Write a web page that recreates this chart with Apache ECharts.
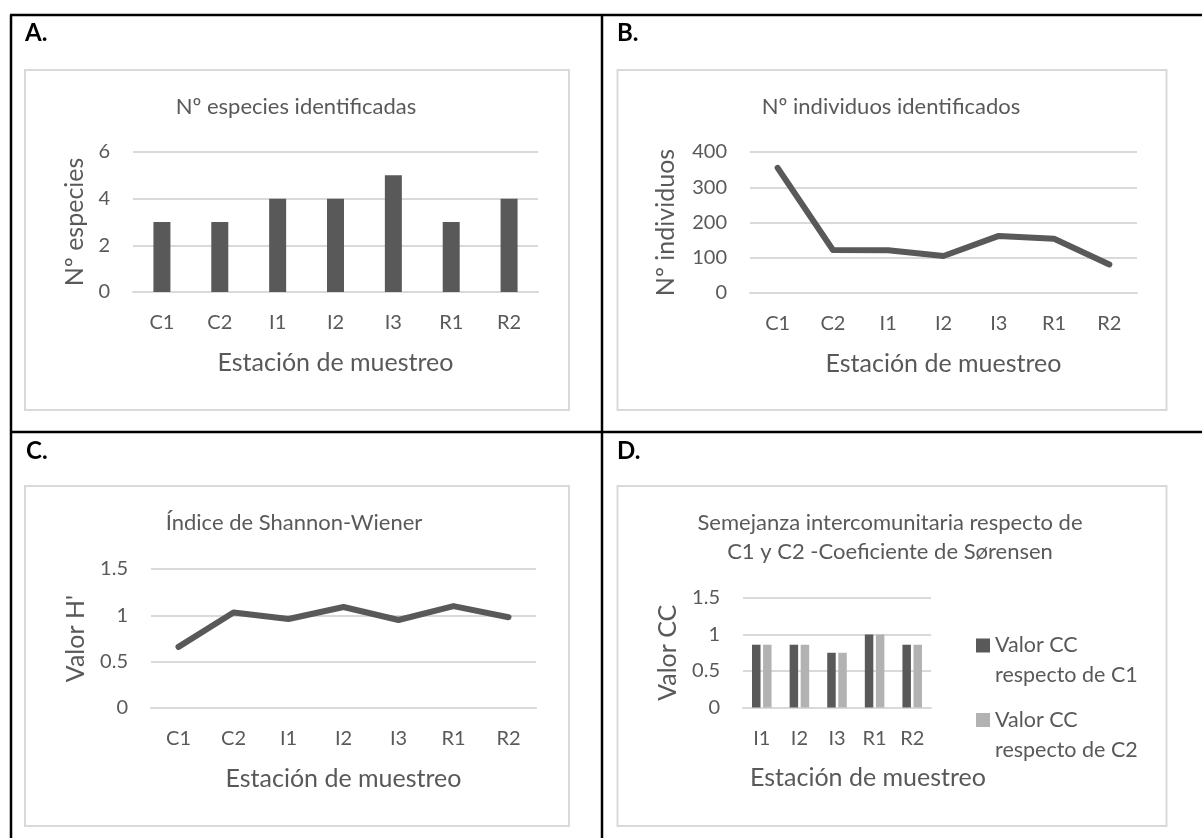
<!DOCTYPE html>
<html>
<head>
<meta charset="utf-8">
<script src="https://cdn.jsdelivr.net/npm/echarts@6/dist/echarts.min.js"></script>
<style>
html,body{margin:0;padding:0;background:#fff;}
#chart{width:1202px;height:838px;}
</style>
</head>
<body>
<div id="chart"></div>
<script>
// ---- data ----
const estaciones = ['C1', 'C2', 'I1', 'I2', 'I3', 'R1', 'R2'];
const especies = [3, 3, 4, 4, 5, 3, 4];
const individuos = [355, 122, 121, 105, 162, 154, 81];
const shannon = [0.66, 1.03, 0.96, 1.09, 0.95, 1.10, 0.98];
const estacionesD = ['I1', 'I2', 'I3', 'R1', 'R2'];
const ccC1 = [0.86, 0.86, 0.75, 1, 0.86];
const ccC2 = [0.86, 0.86, 0.75, 1, 0.86];
const serieC1 = 'Valor CC respecto de C1';
const serieC2 = 'Valor CC respecto de C2';

const FONT = 'Lato';
const TXT = '#595959';
const GRID = '#d9d9d9';
const DARK = '#595959';
const LIGHT = '#b2b2b2';
const NAME_FS = 25;
const TICK_FS = 20;

function xAx(gi, cats, extra) {
  return Object.assign({
    type: 'category', gridIndex: gi, data: cats,
    axisLine: {lineStyle: {color: GRID, width: 2}},
    axisTick: {show: false},
    axisLabel: {color: TXT, fontFamily: FONT, fontSize: TICK_FS, margin: 21},
    name: 'Estación de muestreo', nameLocation: 'middle', nameGap: 58,
    nameTextStyle: {color: TXT, fontFamily: FONT, fontSize: NAME_FS}
  }, extra || {});
}
function yAx(gi, max, interval, name, gap) {
  return {
    type: 'value', gridIndex: gi, min: 0, max: max, interval: interval,
    axisLine: {show: false}, axisTick: {show: false},
    splitLine: {lineStyle: {color: GRID, width: 2}},
    axisLabel: {color: TXT, fontFamily: FONT, fontSize: TICK_FS, margin: 23},
    name: name, nameLocation: 'middle', nameGap: gap,
    nameTextStyle: {color: TXT, fontFamily: FONT, fontSize: NAME_FS}
  };
}
function ttl(text, x, y) {
  return {text: text, left: x, top: y, textAlign: 'center', padding: 0,
    textStyle: {color: TXT, fontFamily: FONT, fontSize: 22, fontWeight: 'normal', lineHeight: 29}};
}
function panelLabel(t, x, y) {
  return {type: 'text', left: x, top: y,
    style: {text: t, fill: '#000', font: 'bold 24px Lato'}};
}
function box(x, y, w, h) {
  return {type: 'rect', shape: {x: x, y: y, width: w, height: h}, z: -10,
    style: {fill: null, stroke: GRID, lineWidth: 2}};
}
function blk(x1, y1, x2, y2) {
  return {type: 'line', shape: {x1: x1, y1: y1, x2: x2, y2: y2}, z: -5,
    style: {stroke: '#000', lineWidth: 2.5}};
}
const legendText = n => '\n' + n.replace(' respecto', '\nrespecto');
const legendStyle = {color: TXT, fontFamily: FONT, fontSize: 21.5, lineHeight: 30};

const chart = echarts.init(document.getElementById('chart'), null, {renderer: 'canvas'});
chart.setOption({
  backgroundColor: '#fff',
  animation: false,
  graphic: [
    blk(10, 15, 1202, 15), blk(11, 15, 11, 838), blk(602, 15, 602, 838), blk(10, 432, 1202, 432),
    box(25, 70, 544, 340), box(617.5, 70, 549, 340), box(25, 486, 544, 340), box(617.5, 486, 549, 340),
    panelLabel('A.', 25, 21), panelLabel('B.', 617, 21), panelLabel('C.', 26, 439), panelLabel('D.', 617, 439)
  ],
  title: [
    ttl('Nº especies identificadas', 296, 92),
    ttl('Nº individuos identificados', 891, 92),
    ttl('Índice de Shannon-Wiener', 294, 508.5),
    ttl('Semejanza intercomunitaria respecto de\nC1 y C2 -Coeficiente de Sørensen', 890, 508.5)
  ],
  legend: [
    {data: [serieC1], orient: 'vertical', left: 976, top: 600.5, padding: 0,
     itemWidth: 14, itemHeight: 14, icon: 'rect', formatter: legendText, textStyle: legendStyle},
    {data: [serieC2], orient: 'vertical', left: 976, top: 675, padding: 0,
     itemWidth: 14, itemHeight: 14, icon: 'rect', formatter: legendText, textStyle: legendStyle}
  ],
  grid: [
    {left: 133, top: 152, width: 405, height: 140},
    {left: 750, top: 152, width: 387, height: 141},
    {left: 151, top: 569, width: 385, height: 139},
    {left: 743, top: 598, width: 188, height: 109.5}
  ],
  xAxis: [
    xAx(0, estaciones),
    xAx(1, estaciones),
    xAx(2, estaciones),
    xAx(3, estacionesD, {nameTextStyle: {color: TXT, fontFamily: FONT, fontSize: NAME_FS, padding: [0, 0, 0, 62]}})
  ],
  yAxis: [
    yAx(0, 6, 2, 'Nº especies', 46),
    yAx(1, 400, 100, 'Nº individuos', 71.5),
    yAx(2, 1.5, 0.5, "Valor H'", 62.5),
    yAx(3, 1.5, 0.5, 'Valor CC', 62.5)
  ],
  series: [
    {type: 'bar', name: 'Nº especies', xAxisIndex: 0, yAxisIndex: 0, data: especies,
     barWidth: 17, itemStyle: {color: DARK}},
    {type: 'line', name: 'Nº individuos', xAxisIndex: 1, yAxisIndex: 1, data: individuos,
     symbol: 'none', lineStyle: {color: DARK, width: 6, cap: 'round', join: 'round'}},
    {type: 'line', name: 'Índice de Shannon-Wiener', xAxisIndex: 2, yAxisIndex: 2, data: shannon,
     symbol: 'none', lineStyle: {color: DARK, width: 6, cap: 'round', join: 'round'}},
    {type: 'bar', name: serieC1, xAxisIndex: 3, yAxisIndex: 3, data: ccC1,
     barWidth: 8.5, barGap: '30%', itemStyle: {color: DARK}},
    {type: 'bar', name: serieC2, xAxisIndex: 3, yAxisIndex: 3, data: ccC2,
     barWidth: 8.5, barGap: '30%', itemStyle: {color: LIGHT}}
  ]
});
</script>
</body>
</html>
